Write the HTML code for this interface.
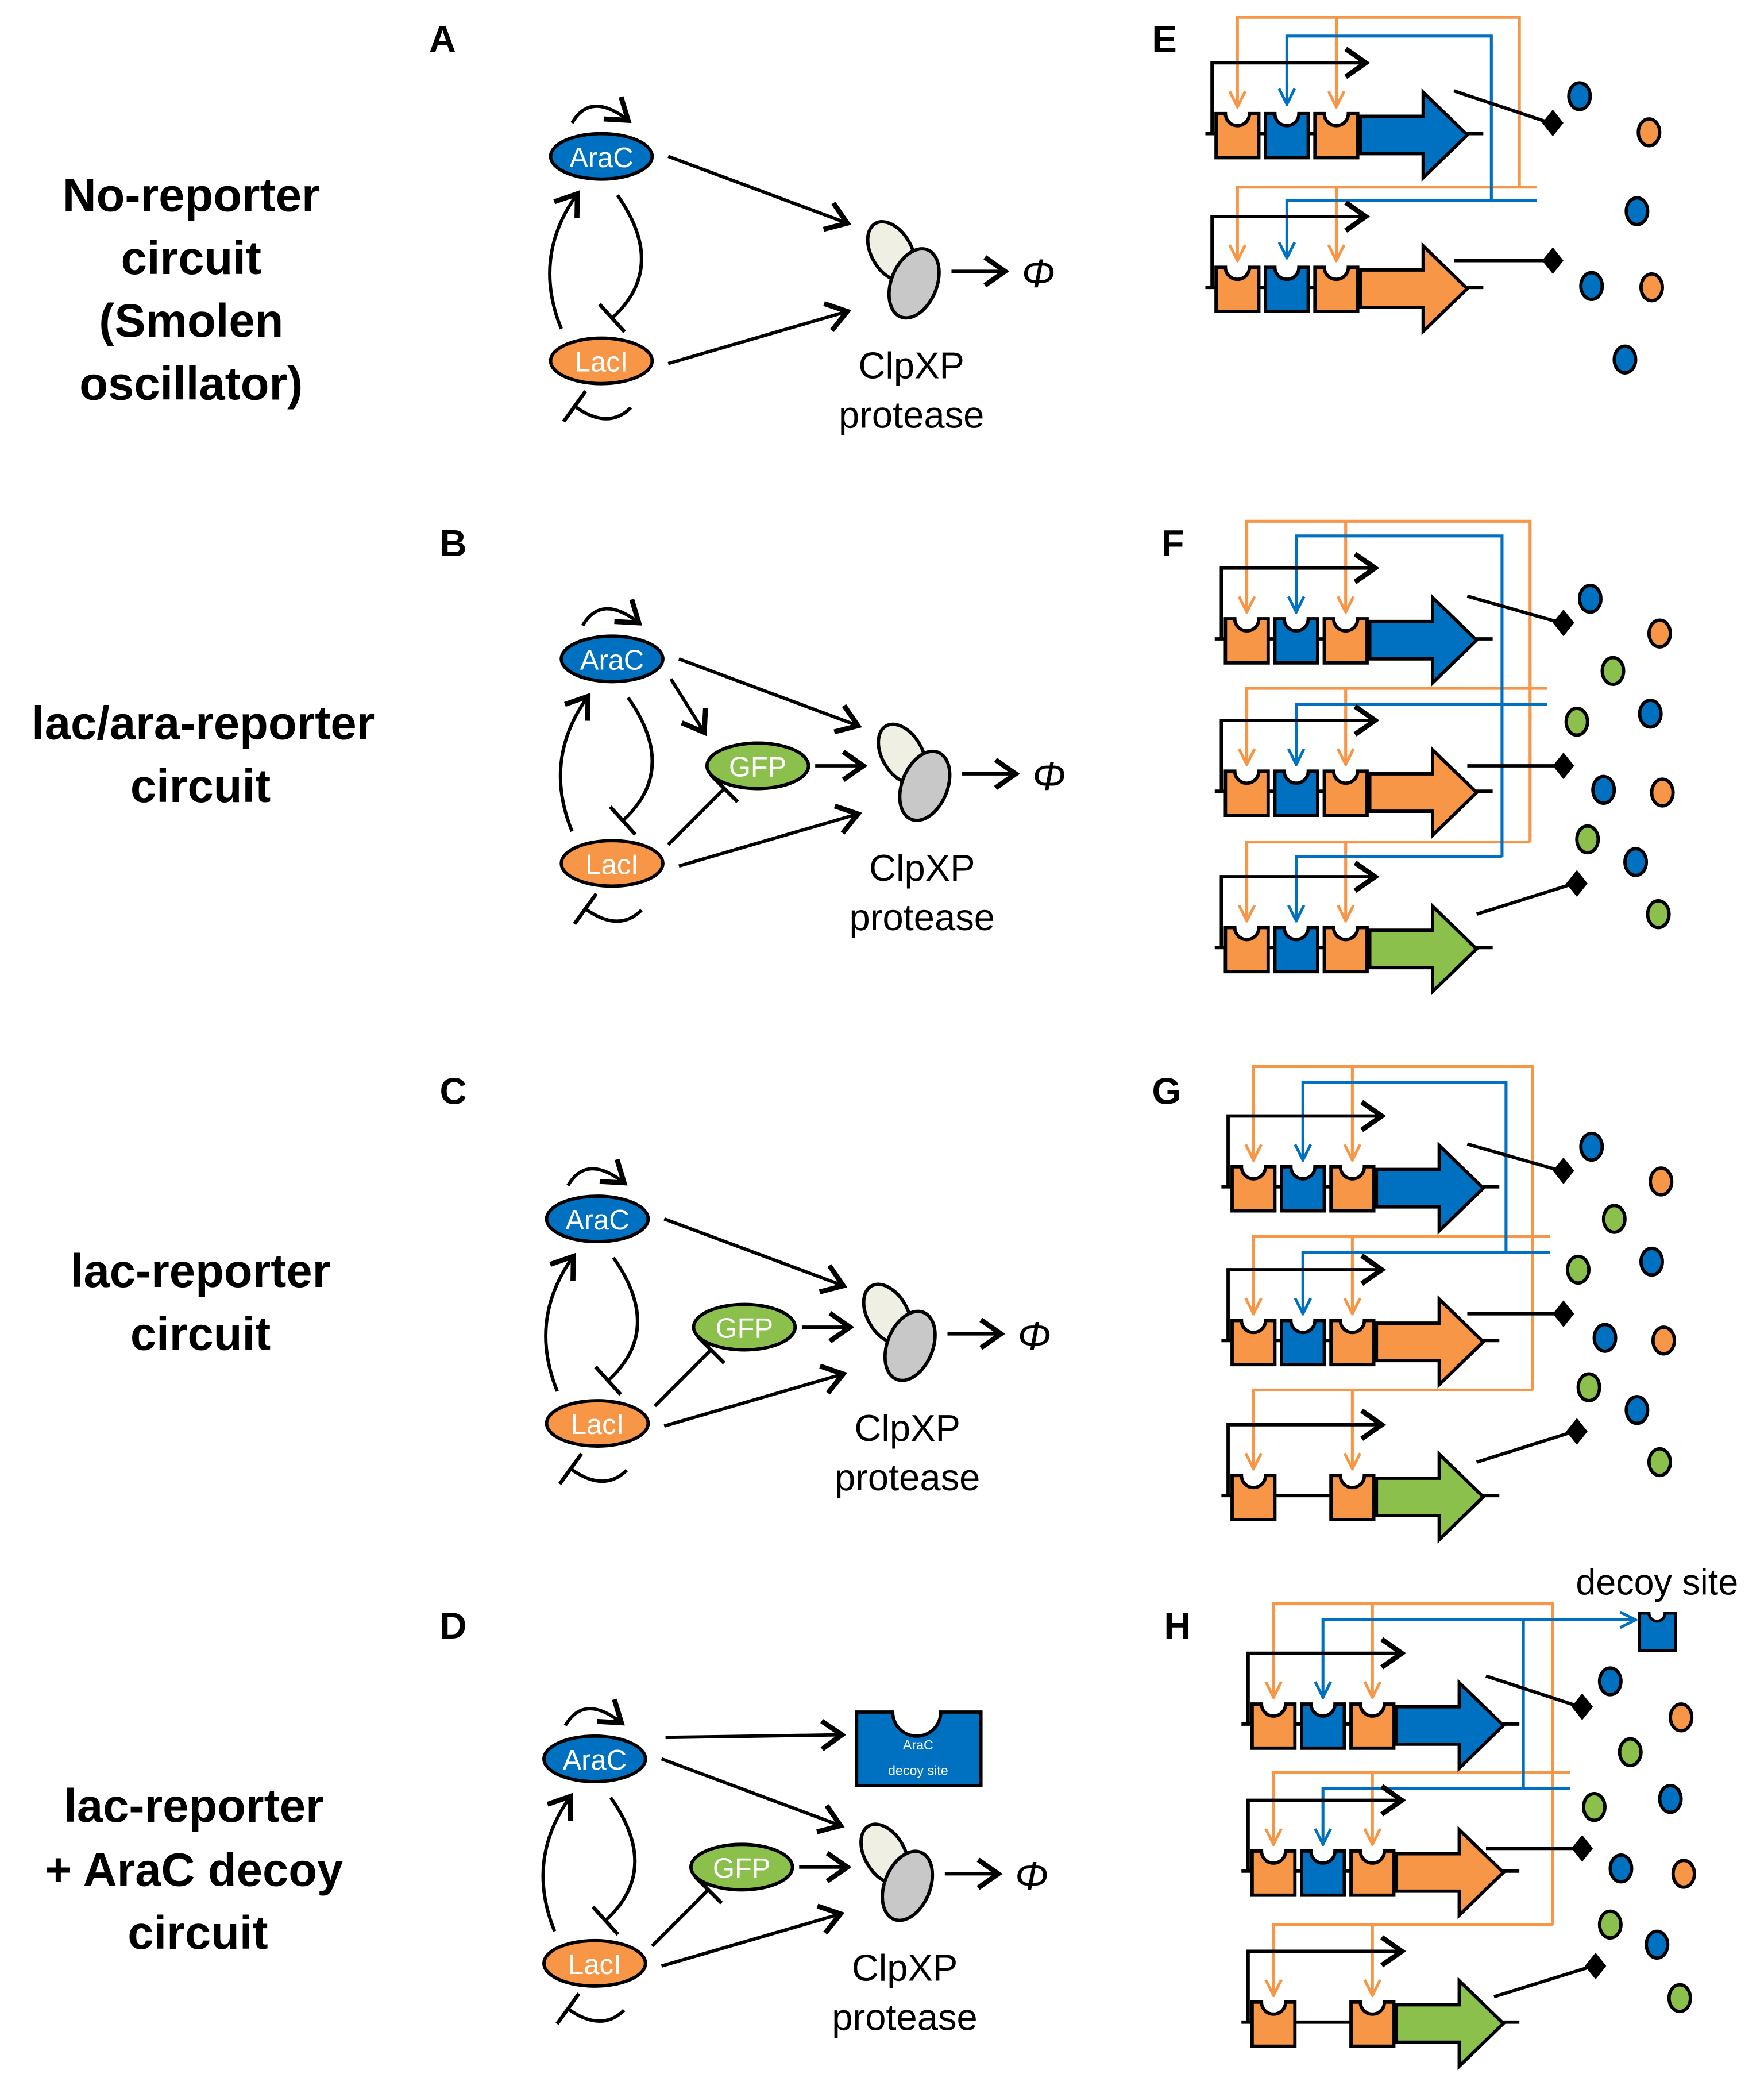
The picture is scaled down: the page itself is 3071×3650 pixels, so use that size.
<!DOCTYPE html>
<html><head><meta charset="utf-8"><style>
html,body{margin:0;padding:0;background:#fff;}
svg{display:block;}
text{font-family:"Liberation Sans",Arial,sans-serif;}
</style></head><body>
<svg xmlns="http://www.w3.org/2000/svg" xmlns:xlink="http://www.w3.org/1999/xlink" width="3071" height="3650" viewBox="0 0 1320 1569">
<defs>
<marker id="ar" markerUnits="userSpaceOnUse" markerWidth="24" markerHeight="24" refX="11" refY="8" orient="auto" viewBox="0 0 14 16">
<path d="M1,1 L11,8 L1,15" fill="none" stroke="#000" stroke-width="2.5"/></marker>
<marker id="tb" markerUnits="userSpaceOnUse" markerWidth="6" markerHeight="28" refX="3" refY="14" orient="auto" viewBox="0 0 6 28">
<path d="M3,0 V28" stroke="#000" stroke-width="2.8"/></marker>
<marker id="ao" markerUnits="userSpaceOnUse" markerWidth="14" markerHeight="16" refX="11" refY="6" orient="auto-start-reverse" viewBox="0 0 12 12">
<path d="M1,1 L11,6 L1,11" fill="none" stroke="#F79646" stroke-width="1.8"/></marker>
<marker id="ab" markerUnits="userSpaceOnUse" markerWidth="14" markerHeight="16" refX="11" refY="6" orient="auto-start-reverse" viewBox="0 0 12 12">
<path d="M1,1 L11,6 L1,11" fill="none" stroke="#0070C0" stroke-width="1.8"/></marker>

<g id="net">
<path d="M428,92 Q442,68 470,90" fill="none" stroke="#000" stroke-width="2.5" marker-end="url(#ar)"/>
<path d="M420,246 Q398,192 432,145" fill="none" stroke="#000" stroke-width="2.5" marker-end="url(#ar)"/>
<path d="M462,146 Q500,200 458,238" fill="none" stroke="#000" stroke-width="2.5" marker-end="url(#tb)"/>
<path d="M472,305 Q455,322 430,304" fill="none" stroke="#000" stroke-width="2.5" marker-end="url(#tb)"/>
<path d="M500,272 L634,233" fill="none" stroke="#000" stroke-width="2.5" marker-end="url(#ar)"/>
<ellipse cx="667" cy="188" rx="15" ry="24" transform="rotate(-30 667 188)" fill="#EFEFE4" stroke="#000" stroke-width="2.5"/>
<ellipse cx="684" cy="212" rx="17" ry="27" transform="rotate(22 684 212)" fill="#C8C8C8" stroke="#000" stroke-width="2.5"/>
<path d="M712,203 L752,203" fill="none" stroke="#000" stroke-width="2.5" marker-end="url(#ar)"/>
<text x="777" y="215" font-size="30" font-style="italic" text-anchor="middle">Φ</text>
<text x="682" y="283" font-size="28" text-anchor="middle">ClpXP</text>
<text x="682" y="320" font-size="28" text-anchor="middle">protease</text>
<ellipse cx="450" cy="117" rx="38" ry="17" fill="#0070C0" stroke="#000" stroke-width="2.5"/>
<text x="450" y="125" font-size="21" fill="#fff" text-anchor="middle">AraC</text>
<ellipse cx="450" cy="270" rx="38" ry="17" fill="#F79646" stroke="#000" stroke-width="2.5"/>
<text x="450" y="278" font-size="21" fill="#fff" text-anchor="middle">LacI</text>
</g>
<path id="arp" d="M500,117 L634,167" fill="none" stroke="#000" stroke-width="2.5" marker-end="url(#ar)"/>
<g id="gfp">
<ellipse cx="567" cy="573" rx="38" ry="17" fill="#8CC04C" stroke="#000" stroke-width="2.5"/>
<text x="567" y="581" font-size="21" fill="#fff" text-anchor="middle">GFP</text>
<path d="M610,573 L646,573" fill="none" stroke="#000" stroke-width="2.5" marker-end="url(#ar)"/>
<path d="M500,632 L542,590" fill="none" stroke="#000" stroke-width="2.5" marker-end="url(#tb)"/>
</g>

<path id="bx" d="M0,-15 H7 A9,9 0 0 0 25,-15 H32 V18 H0 Z" stroke="#000" stroke-width="2.5"/>
<g id="prom"><path d="M-3,0 V-53 H112" fill="none" stroke="#000" stroke-width="2.5" marker-end="url(#ar)"/></g>
<path id="big" d="M108,-13 H155 V-31 L188,1 L155,33 V15 H108 Z" stroke="#000" stroke-width="2.5"/>
<path id="dia" d="M0,-10 L8,0 L0,10 L-8,0 Z" fill="#000"/>
</defs>

<g font-size="28" font-weight="bold">
<text x="321" y="39">A</text><text x="329" y="416">B</text><text x="329" y="826">C</text><text x="329" y="1226">D</text>
<text x="862" y="39">E</text><text x="869" y="416">F</text><text x="862" y="826">G</text><text x="871" y="1226">H</text>
</g>
<g font-size="35" font-weight="bold" text-anchor="middle">
<text x="143" y="158">No-reporter</text><text x="143" y="205">circuit</text><text x="143" y="252">(Smolen</text><text x="143" y="299">oscillator)</text>
<text x="152" y="553">lac/ara-reporter</text><text x="150" y="600">circuit</text>
<text x="150" y="963">lac-reporter</text><text x="150" y="1010">circuit</text>
<text x="145" y="1363">lac-reporter</text><text x="145" y="1411">+ AraC decoy</text><text x="148" y="1458">circuit</text>
</g>

<use xlink:href="#net"/><use xlink:href="#arp"/>
<g transform="translate(8,376)"><use xlink:href="#net"/><use xlink:href="#arp"/></g>
<use xlink:href="#gfp"/>
<path d="M502,508 L527,548" fill="none" stroke="#000" stroke-width="2.5" marker-end="url(#ar)"/>
<g transform="translate(-3,795)"><use xlink:href="#net"/><use xlink:href="#arp"/></g>
<g transform="translate(-10,420)"><use xlink:href="#gfp"/></g>
<g transform="translate(-5,1199)"><use xlink:href="#net"/><use xlink:href="#arp"/></g>
<g transform="translate(-12,824)"><use xlink:href="#gfp"/></g>
<path d="M498,1300 L630,1298" fill="none" stroke="#000" stroke-width="2.5" marker-end="url(#ar)"/>
<path d="M641,1281 H668 A18,18 0 0 0 704,1281 H734 V1336 H641 Z" fill="#0070C0" stroke="#000" stroke-width="2.5"/>
<text x="687" y="1309" font-size="10" fill="#fff" text-anchor="middle">AraC</text>
<text x="687" y="1328" font-size="10" fill="#fff" text-anchor="middle">decoy site</text>

<!-- E -->
<g fill="none" stroke-width="2.2">
<path d="M926,80 V13 H1137 V140" stroke="#F79646" marker-start="url(#ao)"/>
<path d="M1000,13 V80" stroke="#F79646" marker-end="url(#ao)"/>
<path d="M926,195 V140 H1150" stroke="#F79646" marker-start="url(#ao)"/>
<path d="M1000,140 V195" stroke="#F79646" marker-end="url(#ao)"/>
<path d="M963,78 V27 H1116 V150" stroke="#0070C0" marker-start="url(#ab)"/>
<path d="M963,193 V150 H1150" stroke="#0070C0" marker-start="url(#ab)"/>
</g>
<g transform="translate(910,100)"><path d="M-8,0 H200" stroke="#000" stroke-width="2.5"/><use xlink:href="#prom"/>
<use xlink:href="#bx" fill="#F79646"/><use xlink:href="#bx" x="37" fill="#0070C0"/><use xlink:href="#bx" x="74" fill="#F79646"/><use xlink:href="#big" fill="#0070C0"/></g>
<g transform="translate(910,215)"><path d="M-8,0 H200" stroke="#000" stroke-width="2.5"/><use xlink:href="#prom"/>
<use xlink:href="#bx" fill="#F79646"/><use xlink:href="#bx" x="37" fill="#0070C0"/><use xlink:href="#bx" x="74" fill="#F79646"/><use xlink:href="#big" fill="#F79646"/></g>
<path d="M1088,68 L1160,92 M1088,195 L1158,195" stroke="#000" stroke-width="2.5"/>
<use xlink:href="#dia" x="1162" y="92"/><use xlink:href="#dia" x="1162" y="195"/>
<g stroke="#000" stroke-width="2.5">
<ellipse cx="1182" cy="72" rx="8" ry="10" fill="#0070C0"/><ellipse cx="1234" cy="99" rx="8" ry="10" fill="#F79646"/>
<ellipse cx="1225" cy="158" rx="8" ry="10" fill="#0070C0"/><ellipse cx="1191" cy="214" rx="8" ry="10" fill="#0070C0"/>
<ellipse cx="1236" cy="215" rx="8" ry="10" fill="#F79646"/><ellipse cx="1216" cy="269" rx="8" ry="10" fill="#0070C0"/>
</g>

<!-- F -->
<g fill="none" stroke-width="2.2">
<path d="M933,458 V390 H1145 V630" stroke="#F79646" marker-start="url(#ao)"/>
<path d="M1007,390 V458" stroke="#F79646" marker-end="url(#ao)"/>
<path d="M933,572 V515 H1158" stroke="#F79646" marker-start="url(#ao)"/>
<path d="M1007,515 V572" stroke="#F79646" marker-end="url(#ao)"/>
<path d="M933,689 V630 H1145" stroke="#F79646" marker-start="url(#ao)"/>
<path d="M1007,630 V689" stroke="#F79646" marker-end="url(#ao)"/>
<path d="M970,458 V401 H1124 V641" stroke="#0070C0" marker-start="url(#ab)"/>
<path d="M970,572 V527 H1158" stroke="#0070C0" marker-start="url(#ab)"/>
<path d="M970,689 V641 H1124" stroke="#0070C0" marker-start="url(#ab)"/>
</g>
<g transform="translate(917,478)"><path d="M-8,0 H200" stroke="#000" stroke-width="2.5"/><use xlink:href="#prom"/>
<use xlink:href="#bx" fill="#F79646"/><use xlink:href="#bx" x="37" fill="#0070C0"/><use xlink:href="#bx" x="74" fill="#F79646"/><use xlink:href="#big" fill="#0070C0"/></g>
<g transform="translate(917,592)"><path d="M-8,0 H200" stroke="#000" stroke-width="2.5"/><use xlink:href="#prom"/>
<use xlink:href="#bx" fill="#F79646"/><use xlink:href="#bx" x="37" fill="#0070C0"/><use xlink:href="#bx" x="74" fill="#F79646"/><use xlink:href="#big" fill="#F79646"/></g>
<g transform="translate(917,709)"><path d="M-8,0 H200" stroke="#000" stroke-width="2.5"/><use xlink:href="#prom"/>
<use xlink:href="#bx" fill="#F79646"/><use xlink:href="#bx" x="37" fill="#0070C0"/><use xlink:href="#bx" x="74" fill="#F79646"/><use xlink:href="#big" fill="#8CC04C"/></g>
<path d="M1098,446 L1168,466 M1098,573 L1168,573 M1105,684 L1178,661" stroke="#000" stroke-width="2.5"/>
<use xlink:href="#dia" x="1170" y="466"/><use xlink:href="#dia" x="1170" y="573"/><use xlink:href="#dia" x="1180" y="661"/>
<g id="dotsF" stroke="#000" stroke-width="2.5">
<ellipse cx="1190" cy="448" rx="8" ry="10" fill="#0070C0"/><ellipse cx="1242" cy="474" rx="8" ry="10" fill="#F79646"/>
<ellipse cx="1207" cy="502" rx="8" ry="10" fill="#8CC04C"/><ellipse cx="1180" cy="540" rx="8" ry="10" fill="#8CC04C"/>
<ellipse cx="1235" cy="534" rx="8" ry="10" fill="#0070C0"/><ellipse cx="1200" cy="591" rx="8" ry="10" fill="#0070C0"/>
<ellipse cx="1244" cy="593" rx="8" ry="10" fill="#F79646"/><ellipse cx="1188" cy="628" rx="8" ry="10" fill="#8CC04C"/>
<ellipse cx="1224" cy="645" rx="8" ry="10" fill="#0070C0"/><ellipse cx="1241" cy="684" rx="8" ry="10" fill="#8CC04C"/>
</g>

<!-- G -->
<g fill="none" stroke-width="2.2">
<path d="M938,868 V798 H1147 V1040" stroke="#F79646" marker-start="url(#ao)"/>
<path d="M1012,798 V868" stroke="#F79646" marker-end="url(#ao)"/>
<path d="M938,983 V925 H1160" stroke="#F79646" marker-start="url(#ao)"/>
<path d="M1012,925 V983" stroke="#F79646" marker-end="url(#ao)"/>
<path d="M938,1099 V1040 H1147" stroke="#F79646" marker-start="url(#ao)"/>
<path d="M1012,1040 V1099" stroke="#F79646" marker-end="url(#ao)"/>
<path d="M975,868 V810 H1127 V937" stroke="#0070C0" marker-start="url(#ab)"/>
<path d="M975,983 V937 H1160" stroke="#0070C0" marker-start="url(#ab)"/>
</g>
<g transform="translate(922,888)"><path d="M-8,0 H200" stroke="#000" stroke-width="2.5"/><use xlink:href="#prom"/>
<use xlink:href="#bx" fill="#F79646"/><use xlink:href="#bx" x="37" fill="#0070C0"/><use xlink:href="#bx" x="74" fill="#F79646"/><use xlink:href="#big" fill="#0070C0"/></g>
<g transform="translate(922,1003)"><path d="M-8,0 H200" stroke="#000" stroke-width="2.5"/><use xlink:href="#prom"/>
<use xlink:href="#bx" fill="#F79646"/><use xlink:href="#bx" x="37" fill="#0070C0"/><use xlink:href="#bx" x="74" fill="#F79646"/><use xlink:href="#big" fill="#F79646"/></g>
<g transform="translate(922,1119)"><path d="M-8,0 H200" stroke="#000" stroke-width="2.5"/><use xlink:href="#prom"/>
<use xlink:href="#bx" fill="#F79646"/><use xlink:href="#bx" x="74" fill="#F79646"/><use xlink:href="#big" fill="#8CC04C"/></g>
<path d="M1098,856 L1168,876 M1098,983 L1168,983 M1105,1094 L1178,1071" stroke="#000" stroke-width="2.5"/>
<use xlink:href="#dia" x="1170" y="876"/><use xlink:href="#dia" x="1170" y="983"/><use xlink:href="#dia" x="1180" y="1071"/>
<use xlink:href="#dotsF" x="1" y="410"/>

<!-- H -->
<g fill="none" stroke-width="2.2">
<path d="M953,1270 V1200 H1162 V1440" stroke="#F79646" marker-start="url(#ao)"/>
<path d="M1027,1200 V1270" stroke="#F79646" marker-end="url(#ao)"/>
<path d="M953,1380 V1326 H1175" stroke="#F79646" marker-start="url(#ao)"/>
<path d="M1027,1326 V1380" stroke="#F79646" marker-end="url(#ao)"/>
<path d="M953,1493 V1440 H1162" stroke="#F79646" marker-start="url(#ao)"/>
<path d="M1027,1440 V1493" stroke="#F79646" marker-end="url(#ao)"/>
<path d="M990,1270 V1212 H1224" stroke="#0070C0" marker-start="url(#ab)" marker-end="url(#ab)"/>
<path d="M1140,1212 V1338" stroke="#0070C0"/>
<path d="M990,1380 V1338 H1175" stroke="#0070C0" marker-start="url(#ab)"/>
</g>
<path d="M1227,1207 H1234 A6,6 0 0 0 1246,1207 H1254 V1235 H1227 Z" fill="#0070C0" stroke="#000" stroke-width="2.2"/>
<text x="1240" y="1193" font-size="27" text-anchor="middle">decoy site</text>
<g transform="translate(937,1290)"><path d="M-8,0 H200" stroke="#000" stroke-width="2.5"/><use xlink:href="#prom"/>
<use xlink:href="#bx" fill="#F79646"/><use xlink:href="#bx" x="37" fill="#0070C0"/><use xlink:href="#bx" x="74" fill="#F79646"/><use xlink:href="#big" fill="#0070C0"/></g>
<g transform="translate(937,1400)"><path d="M-8,0 H200" stroke="#000" stroke-width="2.5"/><use xlink:href="#prom"/>
<use xlink:href="#bx" fill="#F79646"/><use xlink:href="#bx" x="37" fill="#0070C0"/><use xlink:href="#bx" x="74" fill="#F79646"/><use xlink:href="#big" fill="#F79646"/></g>
<g transform="translate(937,1513)"><path d="M-8,0 H200" stroke="#000" stroke-width="2.5"/><use xlink:href="#prom"/>
<use xlink:href="#bx" fill="#F79646"/><use xlink:href="#bx" x="74" fill="#F79646"/><use xlink:href="#big" fill="#8CC04C"/></g>
<path d="M1112,1254 L1182,1277 M1112,1383 L1182,1383 M1118,1494 L1192,1471" stroke="#000" stroke-width="2.5"/>
<use xlink:href="#dia" x="1184" y="1277"/><use xlink:href="#dia" x="1184" y="1383"/><use xlink:href="#dia" x="1194" y="1471"/>
<g stroke="#000" stroke-width="2.5">
<ellipse cx="1205" cy="1258" rx="8" ry="10" fill="#0070C0"/><ellipse cx="1258" cy="1285" rx="8" ry="10" fill="#F79646"/>
<ellipse cx="1220" cy="1311" rx="8" ry="10" fill="#8CC04C"/><ellipse cx="1193" cy="1352" rx="8" ry="10" fill="#8CC04C"/>
<ellipse cx="1250" cy="1346" rx="8" ry="10" fill="#0070C0"/><ellipse cx="1213" cy="1398" rx="8" ry="10" fill="#0070C0"/>
<ellipse cx="1260" cy="1402" rx="8" ry="10" fill="#F79646"/><ellipse cx="1205" cy="1440" rx="8" ry="10" fill="#8CC04C"/>
<ellipse cx="1240" cy="1455" rx="8" ry="10" fill="#0070C0"/><ellipse cx="1257" cy="1495" rx="8" ry="10" fill="#8CC04C"/>
</g>
</svg>
</body></html>
